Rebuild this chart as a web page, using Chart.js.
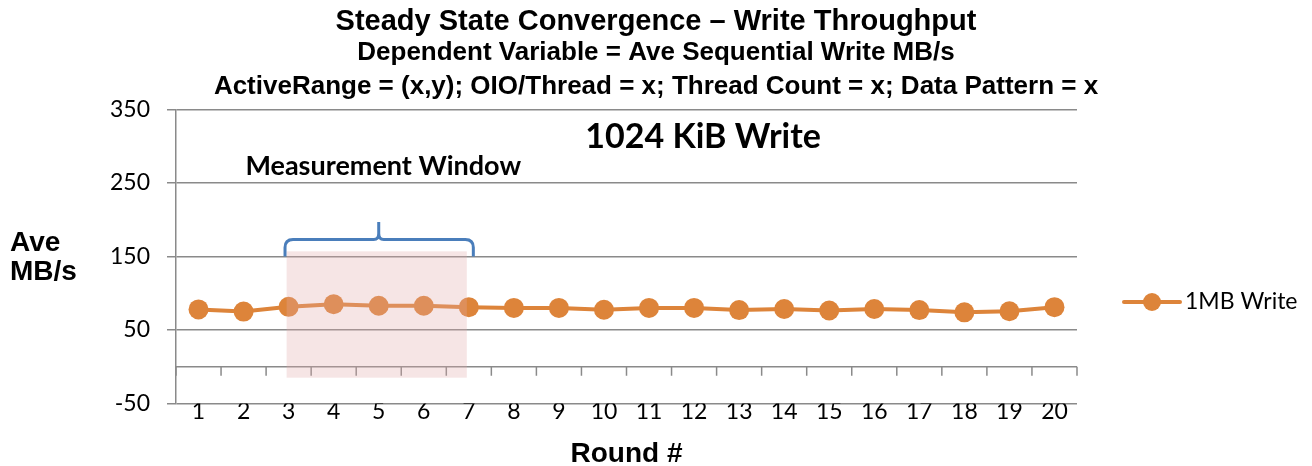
<!DOCTYPE html>
<html>
<head>
<meta charset="utf-8">
<script src="https://cdn.jsdelivr.net/npm/chart.js@4.4.1/dist/chart.umd.min.js"></script>
<style>
  html, body { margin: 0; padding: 0; background: #fff; }
</style>
</head>
<body>
<canvas id="chart" width="1312" height="466"></canvas>
<script>
// data
const rounds = ['1', '2', '3', '4', '5', '6', '7', '8', '9', '10',
                '11', '12', '13', '14', '15', '16', '17', '18', '19', '20'];
const writeMBs = [78, 75, 81.5, 85, 83, 83, 81, 80, 80, 77.5,
                  80, 80, 77, 78.5, 76.5, 78.5, 77, 74, 75.5, 81];
const seriesName = '1MB Write';
const yMin = -50;
const yMax = 350;
const yStep = 100;
const windowRounds = ['3', '7'];      // measurement window
const windowValues = [-15, 157];      // shaded band, in MB/s

const orange = '#dd843a';
const gridGray = '#8a8a8a';
const tickFont = { family: 'Lato', size: 23 };

// extra drawing: zero line with category ticks, measurement window, notes, y title, legend
const extras = {
    id: 'extras',
    beforeDatasetsDraw(chart) {
        const { ctx, chartArea, scales: { x, y } } = chart;
        const y0 = y.getPixelForValue(0);
        ctx.save();
        ctx.strokeStyle = gridGray;
        ctx.lineWidth = 1.5;
        ctx.beginPath();
        ctx.moveTo(chartArea.left, y0);
        ctx.lineTo(chartArea.right, y0);
        for (let i = 0; i <= rounds.length; i++) {
            const px = x.getPixelForValue(i - 0.5);
            ctx.moveTo(px, y0);
            ctx.lineTo(px, y0 + 9);
        }
        ctx.stroke();
        ctx.restore();
    },
    afterDatasetsDraw(chart) {
        const { ctx, scales: { x, y } } = chart;
        const i0 = rounds.indexOf(windowRounds[0]);
        const i1 = rounds.indexOf(windowRounds[1]);
        ctx.save();
        // shaded band (drawn over the line, like the original)
        const bx0 = x.getPixelForValue(i0) - 2;
        const bx1 = x.getPixelForValue(i1) - 2;
        const by0 = y.getPixelForValue(windowValues[1]);
        const by1 = y.getPixelForValue(windowValues[0]);
        ctx.fillStyle = 'rgba(226, 170, 168, 0.3)';
        ctx.fillRect(bx0, by0, bx1 - bx0, by1 - by0);

        // curly bracket
        const L = x.getPixelForValue(i0 - 0.08);
        const R = x.getPixelForValue(i1 + 0.1);
        const C = x.getPixelForValue((i0 + i1) / 2);
        const yH = y.getPixelForValue(173);
        const yE = y.getPixelForValue(150);
        const yS = y.getPixelForValue(197);
        const r = 8;
        ctx.strokeStyle = '#4a7ebb';
        ctx.lineWidth = 3;
        ctx.lineJoin = 'round';
        ctx.beginPath();
        ctx.moveTo(L, yE);
        ctx.lineTo(L, yH + r);
        ctx.quadraticCurveTo(L, yH, L + r, yH);
        ctx.lineTo(C - 5, yH);
        ctx.quadraticCurveTo(C, yH, C, yH - 6);
        ctx.lineTo(C, yS);
        ctx.moveTo(C, yH - 6);
        ctx.quadraticCurveTo(C, yH, C + 5, yH);
        ctx.lineTo(R - r, yH);
        ctx.quadraticCurveTo(R, yH, R, yH + r);
        ctx.lineTo(R, yE);
        ctx.stroke();

        // notes
        ctx.fillStyle = '#000';
        ctx.textAlign = 'center';
        ctx.textBaseline = 'middle';
        ctx.font = 'bold 27px Lato';
        ctx.fillText('Measurement Window', x.getPixelForValue(4.1), y.getPixelForValue(273));
        ctx.font = 'bold 34px Lato';
        ctx.fillText('1024 KiB Write', x.getPixelForValue(11.2), y.getPixelForValue(313));
        ctx.restore();
    },
    afterDraw(chart) {
        const { ctx } = chart;
        ctx.save();
        // y axis title, horizontal as in the original
        ctx.fillStyle = '#000';
        ctx.textAlign = 'left';
        ctx.textBaseline = 'middle';
        ctx.font = 'bold 28px "Liberation Sans"';
        ctx.fillText('Ave', 10, 243);
        ctx.fillText('MB/s', 10, 272);

        // legend
        const lx = 1124, ly = 302;
        ctx.strokeStyle = orange;
        ctx.lineWidth = 4;
        ctx.lineCap = 'round';
        ctx.beginPath();
        ctx.moveTo(lx, ly);
        ctx.lineTo(lx + 56, ly);
        ctx.stroke();
        ctx.fillStyle = orange;
        ctx.beginPath();
        ctx.arc(lx + 28, ly, 9, 0, Math.PI * 2);
        ctx.fill();
        ctx.fillStyle = '#000';
        ctx.font = '23px Lato';
        ctx.fillText(seriesName, lx + 61, ly);
        ctx.restore();
    }
};

new Chart(document.getElementById('chart'), {
    type: 'line',
    data: {
        labels: rounds,
        datasets: [{
            label: seriesName,
            data: writeMBs,
            borderColor: orange,
            backgroundColor: orange,
            borderWidth: 4,
            pointRadius: 10,
            pointHoverRadius: 10,
            pointBorderWidth: 0,
            tension: 0
        }]
    },
    options: {
        responsive: false,
        animation: false,
        devicePixelRatio: 1,
        layout: { padding: { left: 0, right: 0, top: 0, bottom: -2 } },
        plugins: {
            legend: { display: false },
            tooltip: { enabled: false },
            title: {
                display: true,
                text: 'Steady State Convergence \u2013 Write Throughput',
                color: '#000',
                font: { family: 'Liberation Sans', size: 29, weight: 'bold', lineHeight: 1.0 },
                padding: { top: 7, bottom: 0 }
            },
            subtitle: {
                display: true,
                text: ['Dependent Variable = Ave Sequential Write MB/s',
                       'ActiveRange = (x,y); OIO/Thread = x; Thread Count = x; Data Pattern = x'],
                color: '#000',
                font: { family: 'Liberation Sans', size: 26, weight: 'bold', lineHeight: 1.3 },
                padding: { top: 0, bottom: 6 }
            }
        },
        scales: {
            x: {
                offset: true,
                grid: { display: false, drawTicks: false },
                border: { display: false },
                ticks: { color: '#000', font: tickFont, padding: -6, maxRotation: 0 },
                title: {
                    display: true,
                    text: 'Round #',
                    color: '#000',
                    font: { family: 'Liberation Sans', size: 28, weight: 'bold', lineHeight: 1.0 },
                    padding: { top: 21, bottom: 0 }
                }
            },
            y: {
                min: yMin,
                max: yMax,
                ticks: { stepSize: yStep, color: '#000', font: tickFont, padding: 17 },
                grid: { color: gridGray, lineWidth: 1.5, tickLength: 9 },
                border: { color: gridGray, width: 1.5 },
                afterFit(scale) { scale.width = 176; }
            },
            // empty right-hand axis that only keeps room for the legend
            legendRoom: {
                type: 'linear',
                position: 'right',
                ticks: { display: false },
                grid: { display: false },
                border: { display: false },
                afterFit(scale) { scale.width = 235; }
            }
        }
    },
    plugins: [extras]
});
</script>
</body>
</html>
